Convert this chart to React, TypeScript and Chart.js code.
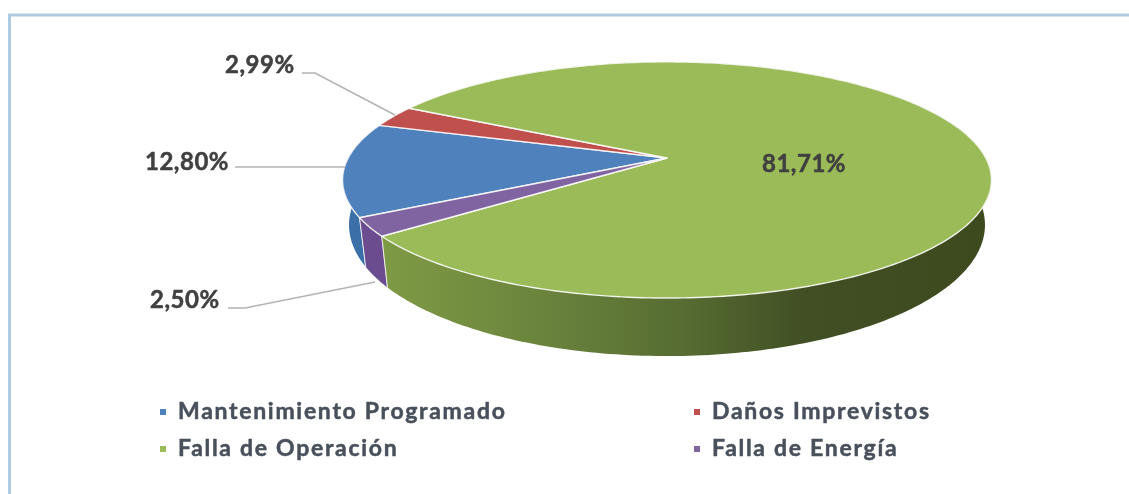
import React, { useEffect, useRef } from "react";
import { Chart, registerables } from "chart.js";

Chart.register(...registerables);

const categories = ["Mantenimiento Programado", "Daños Imprevistos", "Falla de Operación", "Falla de Energía"];
const shares = [12.8, 2.99, 81.71, 2.5];
const topColors = ["#4f81bd", "#c0504d", "#9bbb59", "#8064a2"];
const wallColors = ["#3a6fa8", "#97403d", "#7b9a3f", "#6b4d8f"];

const FONT = "Lato, 'Noto Sans', sans-serif";
const VALUE_TEXT = "#404040";
const LEGEND_TEXT = "#48505c";

// Homography from the unit circle of the pie to the tilted disc on the page.
const K = -0.186;
const AX = 318.8;
const AY = 114;

type Pt = [number, number];

function App() {
  const ref = useRef<HTMLCanvasElement>(null);

  useEffect(() => {
    document.body.style.margin = "0";
    const fmt = (v: number) => v.toFixed(2).replace(".", ",") + "%";

    const project = (el: any, a: number): Pt => {
      const u = Math.cos(a);
      const v = Math.sin(a);
      const w = 1 + K * v;
      return [el.x + (AX * u) / w, el.y + (AY * v) / w];
    };
    const lower = (el: any, p: Pt): Pt => [
      el.x + 0.98 * (p[0] - el.x),
      el.y + 42.6 + 1.11 * (p[1] - el.y),
    ];
    const arcPts = (el: any): Pt[] => {
      const pts: Pt[] = [];
      const steps = Math.max(2, Math.ceil(((el.endAngle - el.startAngle) * 180) / Math.PI));
      for (let i = 0; i <= steps; i++) {
        pts.push(project(el, el.startAngle + ((el.endAngle - el.startAngle) * i) / steps));
      }
      return pts;
    };
    const trace = (ctx: CanvasRenderingContext2D, pts: Pt[], move = true) => {
      pts.forEach((p, i) => {
        if (i === 0 && move) ctx.moveTo(p[0], p[1]);
        else ctx.lineTo(p[0], p[1]);
      });
    };

    const discPlugin = {
      id: "tiltedDisc",
      beforeDraw(chart: any) {
        const { ctx, width, height } = chart;
        ctx.save();
        ctx.fillStyle = "#ffffff";
        ctx.fillRect(0, 0, width, height);
        ctx.strokeStyle = "#aecbe2";
        ctx.lineWidth = 3;
        ctx.beginPath();
        ctx.moveTo(9.5, height + 5);
        ctx.lineTo(9.5, 15);
        ctx.lineTo(width + 5, 15);
        ctx.stroke();
        ctx.restore();
      },
      beforeDatasetDraw(chart: any) {
        const { ctx } = chart;
        const arcs = chart.getDatasetMeta(0).data;
        ctx.save();
        ctx.lineJoin = "round";
        // walls, back to front
        [1, 0, 3, 2].forEach((i) => {
          const el = arcs[i];
          const up = arcPts(el);
          const lo = up.map((p) => lower(el, p)).reverse();
          ctx.beginPath();
          trace(ctx, up);
          trace(ctx, lo, false);
          ctx.closePath();
          if (i === 2) {
            const g = ctx.createLinearGradient(383, 0, 985, 0);
            g.addColorStop(0, "#7f9a45");
            g.addColorStop(0.25, "#6c853d");
            g.addColorStop(0.5, "#566c32");
            g.addColorStop(0.7, "#414f24");
            g.addColorStop(1, "#3d4a1e");
            ctx.fillStyle = g;
          } else {
            ctx.fillStyle = wallColors[i];
          }
          ctx.fill();
          ctx.beginPath();
          const a = up[0];
          const b = up[up.length - 1];
          trace(ctx, [a, lower(el, a)]);
          trace(ctx, [b, lower(el, b)]);
          ctx.strokeStyle = "rgba(255,255,255,0.75)";
          ctx.lineWidth = 1;
          ctx.stroke();
        });
        // top faces
        arcs.forEach((el: any, i: number) => {
          const up = arcPts(el);
          ctx.beginPath();
          ctx.moveTo(el.x, el.y);
          trace(ctx, up, false);
          ctx.closePath();
          ctx.fillStyle = topColors[i];
          ctx.fill();
          ctx.strokeStyle = "rgba(255,255,255,0.85)";
          ctx.lineWidth = 1.4;
          ctx.stroke();
        });
        ctx.restore();
        return false;
      },
      afterDraw(chart: any) {
        const { ctx } = chart;
        ctx.save();
        // leader lines
        ctx.strokeStyle = "#b3b3b3";
        ctx.lineWidth = 1.5;
        const leaders: Pt[][] = [
          [[235, 167], [345, 167]],
          [[302, 73], [315, 73], [395, 115]],
          [[228, 308], [245, 308], [375, 282]],
        ];
        leaders.forEach((l) => {
          ctx.beginPath();
          trace(ctx, l);
          ctx.stroke();
        });
        // value labels
        ctx.textBaseline = "middle";
        ctx.textAlign = "left";
        ctx.lineJoin = "round";
        ctx.font = `700 24px ${FONT}`;
        ctx.letterSpacing = "0.5px";
        ctx.fillStyle = VALUE_TEXT;
        ctx.strokeStyle = VALUE_TEXT;
        ctx.lineWidth = 0.5;
        const labelPos: Pt[] = [[145, 162], [225, 65], [762, 164], [150, 300]];
        shares.forEach((v, i) => {
          ctx.fillText(fmt(v), labelPos[i][0], labelPos[i][1]);
          ctx.strokeText(fmt(v), labelPos[i][0], labelPos[i][1]);
        });
        // legend
        ctx.font = `700 23px ${FONT}`;
        const legendX = [163, 697];
        const legendY = [412, 449];
        categories.forEach((c, i) => {
          const x = legendX[i % 2];
          const y = legendY[Math.floor(i / 2)];
          ctx.fillStyle = topColors[i];
          ctx.fillRect(x - 3, y - 3, 6, 6);
          ctx.fillStyle = LEGEND_TEXT;
          ctx.strokeStyle = LEGEND_TEXT;
          ctx.letterSpacing = "1.7px";
          ctx.fillText(c, x + 15, y);
          ctx.strokeText(c, x + 15, y);
        });
        ctx.restore();
      },
    };

    const chart = new Chart(ref.current!, {
      type: "pie",
      data: {
        labels: categories,
        datasets: [{ data: shares, backgroundColor: topColors, borderWidth: 0 }],
      },
      options: {
        responsive: false,
        animation: false,
        rotation: 241.5,
        layout: { padding: { left: 510, right: 305, top: 2, bottom: 180 } },
        plugins: { legend: { display: false }, tooltip: { enabled: false } },
      },
      plugins: [discPlugin],
    } as any);
    return () => chart.destroy();
  }, []);

  return (
    <canvas
      ref={ref}
      width={1129}
      height={494}
      style={{ display: "block", position: "absolute", left: 0, top: 0, width: 1129, height: 494 }}
    />
  );
}

export default App;
